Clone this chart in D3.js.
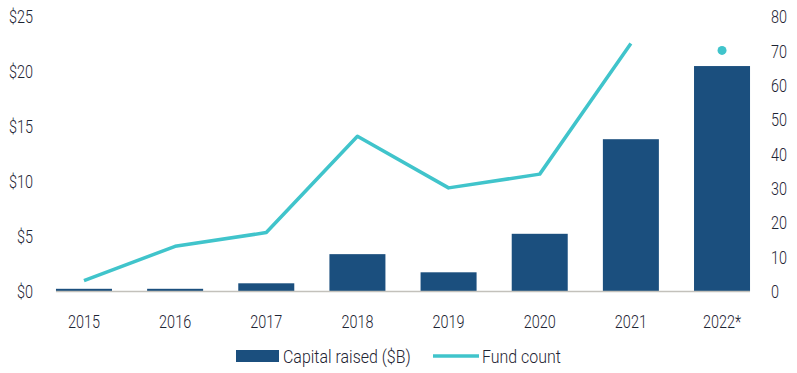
<!DOCTYPE html>
<html><head><meta charset="utf-8">
<script src="https://cdn.jsdelivr.net/npm/d3@7/dist/d3.min.js"></script>
<style>
html,body{margin:0;padding:0;background:#fff;}
text{font-family:Roboto,"DejaVu Sans Condensed",sans-serif;font-weight:300;fill:#1d2433;}
</style></head>
<body><svg id="c" width="797" height="373"></svg>
<script>
const categories = ["2015","2016","2017","2018","2019","2020","2021","2022*"];
const capitalRaised = [0.2, 0.2, 0.7, 3.35, 1.7, 5.2, 13.8, 20.45];
const fundCount = [3, 13, 17, 45, 30, 34, 72, 70];
const leftTicks = [0, 5, 10, 15, 20, 25];
const rightTicks = [0, 10, 20, 30, 40, 50, 60, 70, 80];
const seriesNames = ["Capital raised ($B)", "Fund count"];

const barColor = "#1b4f7e", lineColor = "#40c4cb";
const svg = d3.select("#c");
const fs = 19;
const sxNum = 0.76, sxTxt = 0.84;

const x = d3.scaleBand().domain(categories).range([38.4, 767.6]).paddingInner(0.3856).paddingOuter(0.1928);
const yL = d3.scaleLinear().domain([0, 25]).range([291, 16]);
const yR = d3.scaleLinear().domain([0, 80]).range([291, 16]);

// bars
svg.append("g").selectAll("rect").data(categories).join("rect")
  .attr("x", d => x(d)).attr("width", x.bandwidth())
  .attr("y", (d,i) => yL(capitalRaised[i]))
  .attr("height", (d,i) => yL(0) - yL(capitalRaised[i]))
  .attr("fill", barColor);

// baseline
svg.append("line").attr("x1", x(categories[0])).attr("x2", x(categories[7]) + x.bandwidth())
  .attr("y1", yL(0)+0.5).attr("y2", yL(0)+0.5).attr("stroke", "#c3c1bb").attr("stroke-width", 1.5);

// line (first 7 points), 2022 as dot
const lineData = categories.slice(0, 7).map((c,i) => [x(c) + x.bandwidth()/2, yR(fundCount[i])]);
svg.append("path").attr("d", d3.line()(lineData)).attr("fill", "none")
  .attr("stroke", lineColor).attr("stroke-width", 3.5).attr("stroke-linejoin", "round");
svg.append("circle").attr("cx", x(categories[7]) + x.bandwidth()/2).attr("cy", yR(fundCount[7]))
  .attr("r", 4.5).attr("fill", lineColor);

function styleTicks(g){
  g.select(".domain").remove();
  g.selectAll("text").style("font-size", fs + "px").attr("dy", "0.35em").attr("x", 0).attr("y", 0)
    .attr("transform", `scale(${sxNum},1)`);
}

// left axis labels
const gl = svg.append("g").attr("transform", "translate(33,0)")
  .call(d3.axisLeft(yL).tickValues(leftTicks).tickSize(0).tickPadding(0).tickFormat(d => "$" + d));
styleTicks(gl);

// right axis labels
const gr = svg.append("g").attr("transform", "translate(771,0)")
  .call(d3.axisRight(yR).tickValues(rightTicks).tickSize(0).tickPadding(0));
styleTicks(gr);

// x axis labels
const gx = svg.append("g").attr("transform", "translate(0,321)")
  .call(d3.axisBottom(x).tickSize(0).tickPadding(0));
styleTicks(gx);

// legend
const lg = svg.append("g");
lg.append("rect").attr("x", 236).attr("y", 350).attr("width", 43).attr("height", 12).attr("fill", barColor);
lg.append("g").attr("transform", "translate(283,356)").append("text")
  .attr("transform", `scale(${sxTxt},1)`).attr("dy", "0.35em").style("font-size", fs + "px").text(seriesNames[0]);
lg.append("line").attr("x1", 433).attr("x2", 479).attr("y1", 356).attr("y2", 356)
  .attr("stroke", lineColor).attr("stroke-width", 3.5);
lg.append("g").attr("transform", "translate(482,356)").append("text")
  .attr("transform", `scale(${sxTxt},1)`).attr("dy", "0.35em").style("font-size", fs + "px").text(seriesNames[1]);
</script></body></html>
